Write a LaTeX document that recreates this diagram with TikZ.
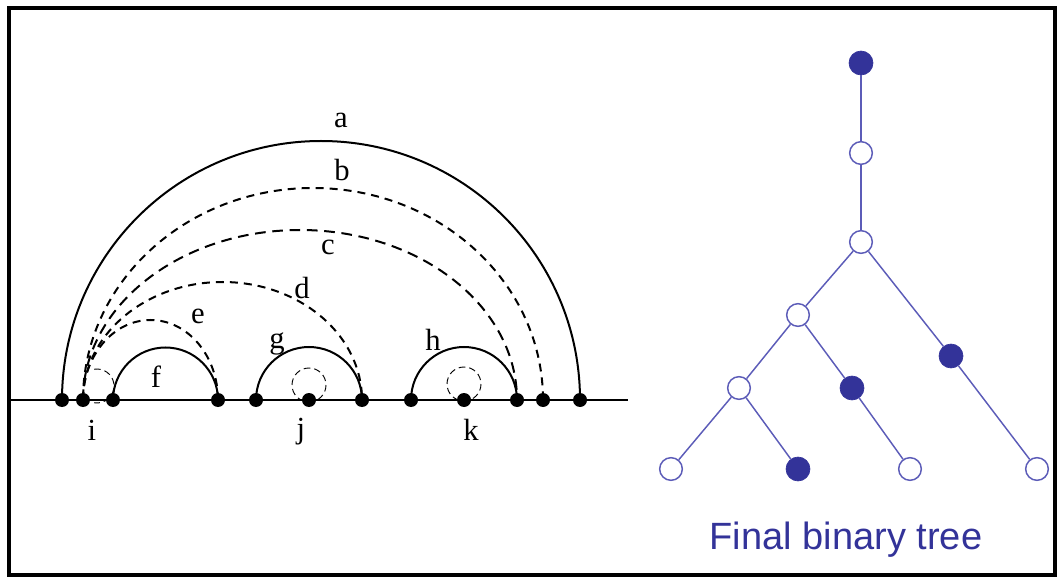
\documentclass[tikz,border=0pt]{standalone}
\usepackage{fontspec}
\setmainfont{Liberation Serif}
\newfontfamily\sansf{Liberation Sans}
\definecolor{treeblue}{HTML}{333399}
\definecolor{edgeblue}{HTML}{5C5CB8}
\begin{document}
\begin{tikzpicture}[x=0.75pt,y=-0.75pt,
  dot/.style={circle,fill=black,inner sep=0pt,minimum size=10.5pt},
  lab/.style={font=\fontsize{23}{25}\selectfont,inner sep=0pt},
  solidarc/.style={line width=1.5pt},
  dasharc/.style={line width=1.5pt,dash pattern=on 6pt off 4.5pt},
  longdash/.style={line width=1.5pt,dash pattern=on 8pt off 5pt},
  smallcirc/.style={line width=0.7pt,dash pattern=on 5pt off 3pt},
  opennode/.style={circle,draw=edgeblue,fill=white,line width=1.1pt,inner sep=0pt,minimum size=17pt},
  fillnode/.style={circle,fill=treeblue,draw=treeblue,line width=0.5pt,inner sep=0pt,minimum size=18pt},
  edge/.style={draw=edgeblue,line width=1.1pt}]
\useasboundingbox (0,0) rectangle (1060,577);
\draw[line width=3pt] (9,8) rectangle (1055,575);
% baseline
\coordinate (bl) at (10,400);
\coordinate (br) at (628,400);
\draw[line width=1.5pt] (bl) -- (br);
% points on line
\coordinate (p1) at (62,400);
\coordinate (p2) at (83,400);
\coordinate (p3) at (113,400);
\coordinate (p4) at (218,400);
\coordinate (p5) at (256,400);
\coordinate (p6) at (309,400);
\coordinate (p7) at (362,400);
\coordinate (p8) at (411,400);
\coordinate (p9) at (464,400);
\coordinate (p10) at (517,400);
\coordinate (p11) at (543,400);
\coordinate (p12) at (580,400);
% arcs
\draw[solidarc] (p1) arc[start angle=180,end angle=360,radius=259];
\draw[dasharc] (p2) arc[start angle=180,end angle=360,x radius=230,y radius=212];
\draw[longdash] (p2) arc[start angle=180,end angle=360,x radius=217,y radius=170];
\draw[dasharc] (p2) arc[start angle=180,end angle=360,x radius=139.5,y radius=118];
\draw[dasharc] (p2) arc[start angle=180,end angle=360,x radius=67.5,y radius=80];
\draw[solidarc] (p3) arc[start angle=180,end angle=360,radius=52.5];
\draw[solidarc] (p5) arc[start angle=180,end angle=360,radius=53];
\draw[solidarc] (p8) arc[start angle=180,end angle=360,radius=53];
% small dashed circles
\coordinate (ci) at (97,386);
\coordinate (cj) at (309,385);
\coordinate (ck) at (464,384);
\draw[smallcirc] (ci) ++(-100:17) arc[start angle=-100,end angle=100,radius=17];
\draw[smallcirc] (cj) circle[radius=17];
\draw[smallcirc] (ck) circle[radius=17];
% dots
\foreach \p in {p1,p2,p3,p4,p5,p6,p7,p8,p9,p10,p11,p12}
  \node[dot] (d\p) at (\p) {};
% labels
\node[lab] (la) at (341,120) {a};
\node[lab] (lb) at (342,170) {b};
\node[lab] (lc) at (328,247) {c};
\node[lab] (ld) at (302,288) {d};
\node[lab] (le) at (198,316) {e};
\node[lab] (lf) at (156,377) {f};
\node[lab] (lg) at (277,344) {g};
\node[lab] (lh) at (433,340) {h};
\node[lab] (li) at (92,430) {i};
\node[lab] (lj) at (301,432) {j};
\node[lab] (lk) at (471,430) {k};
% tree
\node[fillnode] (t1) at (861,63) {};
\node[opennode] (t2) at (861,153) {};
\node[opennode] (t3) at (861,242) {};
\node[opennode] (t4) at (798,315) {};
\node[fillnode] (t5) at (951,356) {};
\node[opennode] (t6) at (739,388) {};
\node[fillnode] (t7) at (852,388) {};
\node[opennode] (t8) at (671,469) {};
\node[fillnode] (t9) at (798,469) {};
\node[opennode] (t10) at (910,469) {};
\node[opennode] (t11) at (1037,469) {};
\path[edge] (t1) -- (t2);
\path[edge] (t2) -- (t3);
\path[edge] (t3) -- (t4);
\path[edge] (t3) -- (t5);
\path[edge] (t4) -- (t6);
\path[edge] (t4) -- (t7);
\path[edge] (t6) -- (t8);
\path[edge] (t6) -- (t9);
\path[edge] (t7) -- (t10);
\path[edge] (t5) -- (t11);
\node[font=\sansf\fontsize{28.5}{31}\selectfont,text=treeblue,inner sep=0pt] (cap) at (846,540) {Final binary tree};
\end{tikzpicture}
\end{document}
